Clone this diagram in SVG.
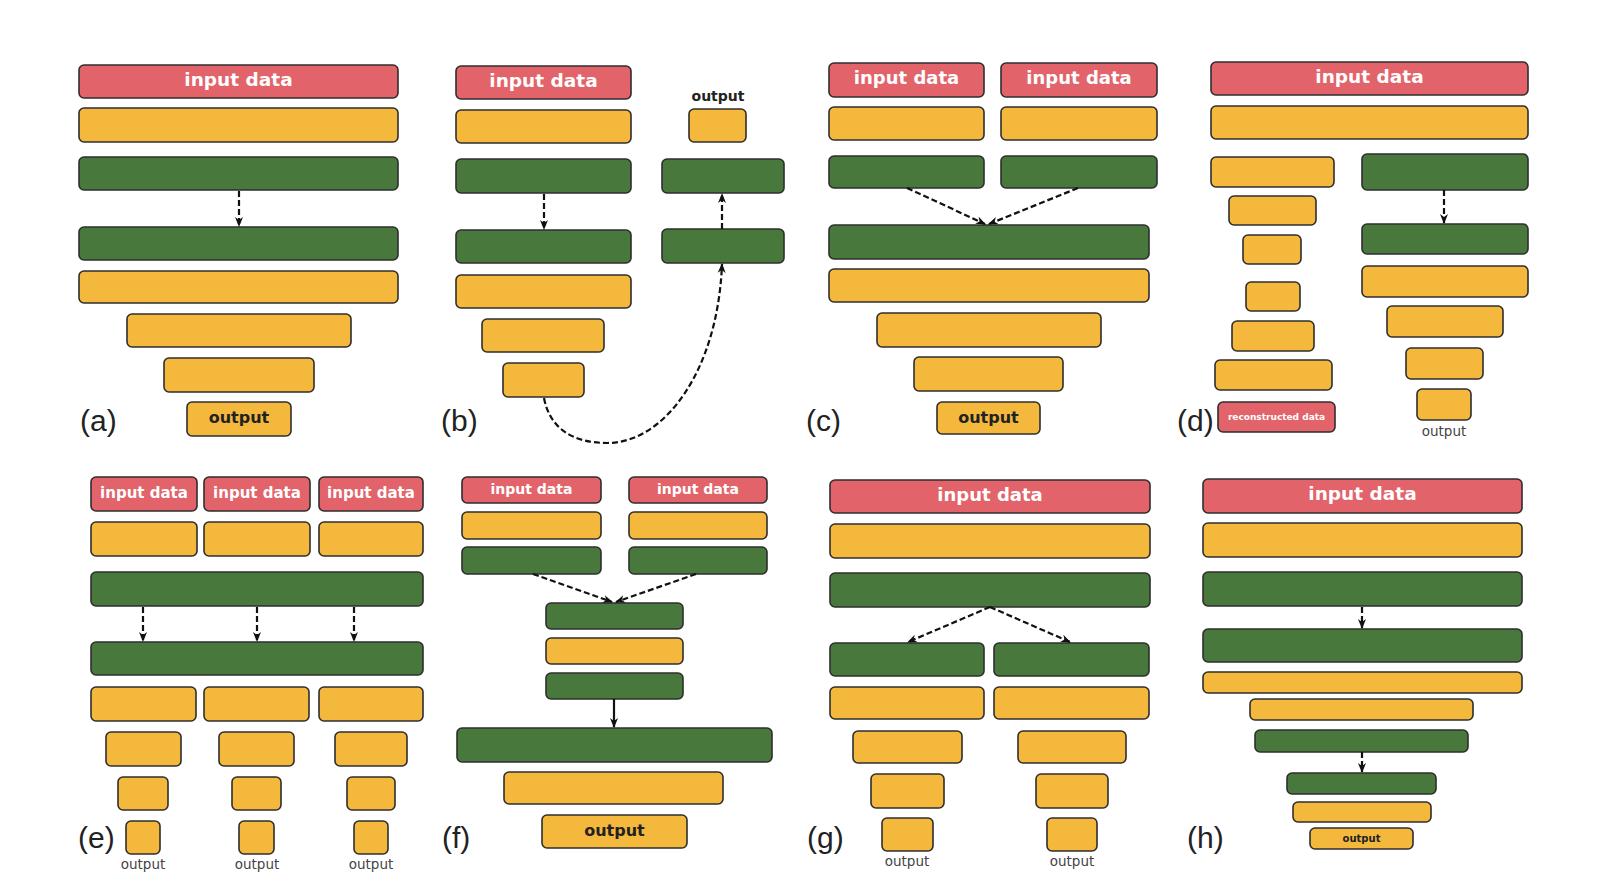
<svg xmlns="http://www.w3.org/2000/svg" width="1604" height="894" viewBox="0 0 1604 894">
<defs>
<style>
rect{stroke:#2e2e2e;stroke-width:1.6}
.r{fill:#e2636a}
.y{fill:#f4b83c}
.g{fill:#48783c}
.it{font-family:"DejaVu Sans",sans-serif;font-weight:bold;fill:#fff;text-anchor:middle}
.ot{font-family:"DejaVu Sans",sans-serif;font-weight:bold;fill:#222;text-anchor:middle}
.og{font-family:"DejaVu Sans",sans-serif;fill:#444;text-anchor:middle;font-size:13.5px}
.lb{font-family:"Liberation Sans",Arial,sans-serif;fill:#222;font-size:30px}
.d{stroke:#111;stroke-width:2.2;stroke-dasharray:6 3;fill:none;marker-end:url(#ah)}
.s{stroke:#111;stroke-width:2.2;fill:none;marker-end:url(#ah)}
</style>
<marker id="ah" viewBox="0 0 10 10" refX="9" refY="5" markerWidth="10" markerHeight="10" markerUnits="userSpaceOnUse" orient="auto">
<path d="M0,1 L10,5 L0,9 L3,5 z" fill="#111"/>
</marker>
</defs>
<rect x="0" y="0" width="1604" height="894" fill="#fff" style="stroke:none"/>

<g id="panel-a">
<rect class="r" x="79" y="65" width="319" height="33" rx="5"/>
<text class="it" x="238.5" y="85.5" font-size="18.5">input data</text>
<rect class="y" x="79" y="108" width="319" height="34" rx="5"/>
<rect class="g" x="79" y="157" width="319" height="33" rx="5"/>
<rect class="g" x="79" y="227" width="319" height="33" rx="5"/>
<rect class="y" x="79" y="271" width="319" height="32" rx="5"/>
<rect class="y" x="127" y="314" width="224" height="33" rx="5"/>
<rect class="y" x="164" y="358" width="150" height="34" rx="5"/>
<rect class="y" x="187" y="402" width="104" height="34" rx="5"/>
<text class="ot" x="239" y="423" font-size="16">output</text>
<text class="lb" x="80" y="431">(a)</text>
</g>

<g id="panel-b">
<rect class="r" x="456" y="66" width="175" height="33" rx="5"/>
<text class="it" x="543.5" y="86.5" font-size="18.5">input data</text>
<rect class="y" x="456" y="110" width="175" height="33" rx="5"/>
<rect class="g" x="456" y="159" width="175" height="34" rx="5"/>
<rect class="g" x="456" y="230" width="175" height="33" rx="5"/>
<rect class="y" x="456" y="275" width="175" height="33" rx="5"/>
<rect class="y" x="482" y="319" width="122" height="33" rx="5"/>
<rect class="y" x="503" y="363" width="81" height="34" rx="5"/>
<text class="ot" x="718" y="101" font-size="14">output</text>
<rect class="y" x="689" y="109" width="57" height="33" rx="5"/>
<rect class="g" x="662" y="159" width="122" height="34" rx="5"/>
<rect class="g" x="662" y="229" width="122" height="34" rx="5"/>
<text class="lb" x="441" y="431">(b)</text>
</g>

<g id="panel-c">
<rect class="r" x="829" y="63" width="155" height="34" rx="5"/>
<text class="it" x="906.5" y="84" font-size="18">input data</text>
<rect class="r" x="1001" y="63" width="156" height="34" rx="5"/>
<text class="it" x="1079" y="84" font-size="18">input data</text>
<rect class="y" x="829" y="107" width="155" height="33" rx="5"/>
<rect class="y" x="1001" y="107" width="156" height="33" rx="5"/>
<rect class="g" x="829" y="156" width="155" height="32" rx="5"/>
<rect class="g" x="1001" y="156" width="156" height="32" rx="5"/>
<rect class="g" x="829" y="225" width="320" height="34" rx="5"/>
<rect class="y" x="829" y="269" width="320" height="33" rx="5"/>
<rect class="y" x="877" y="313" width="224" height="34" rx="5"/>
<rect class="y" x="914" y="357" width="149" height="34" rx="5"/>
<rect class="y" x="937" y="402" width="103" height="32" rx="5"/>
<text class="ot" x="988.5" y="422.5" font-size="16">output</text>
<text class="lb" x="806" y="431">(c)</text>
</g>

<g id="panel-d">
<rect class="r" x="1211" y="62" width="317" height="33" rx="5"/>
<text class="it" x="1369.5" y="82.5" font-size="18.5">input data</text>
<rect class="y" x="1211" y="106" width="317" height="33" rx="5"/>
<rect class="y" x="1211" y="157" width="123" height="30" rx="5"/>
<rect class="y" x="1229" y="196" width="87" height="29" rx="5"/>
<rect class="y" x="1243" y="235" width="58" height="29" rx="5"/>
<rect class="y" x="1246" y="282" width="54" height="29" rx="5"/>
<rect class="y" x="1232" y="321" width="82" height="30" rx="5"/>
<rect class="y" x="1215" y="360" width="117" height="30" rx="5"/>
<rect class="r" x="1218" y="402" width="117" height="30" rx="5"/>
<text class="it" x="1276.5" y="419.5" font-size="9">reconstructed data</text>
<rect class="g" x="1362" y="154" width="166" height="36" rx="5"/>
<rect class="g" x="1362" y="224" width="166" height="30" rx="5"/>
<rect class="y" x="1362" y="266" width="166" height="31" rx="5"/>
<rect class="y" x="1387" y="306" width="116" height="31" rx="5"/>
<rect class="y" x="1406" y="348" width="77" height="31" rx="5"/>
<rect class="y" x="1417" y="389" width="54" height="31" rx="5"/>
<text class="og" x="1444" y="436">output</text>
<text class="lb" x="1177" y="431">(d)</text>
</g>

<g id="panel-e">
<rect class="r" x="91" y="477" width="106" height="34" rx="5"/>
<text class="it" x="144" y="497.5" font-size="15">input data</text>
<rect class="r" x="204" y="477" width="106" height="34" rx="5"/>
<text class="it" x="257" y="497.5" font-size="15">input data</text>
<rect class="r" x="319" y="477" width="104" height="34" rx="5"/>
<text class="it" x="371" y="497.5" font-size="15">input data</text>
<rect class="y" x="91" y="522" width="106" height="34" rx="5"/>
<rect class="y" x="204" y="522" width="106" height="34" rx="5"/>
<rect class="y" x="319" y="522" width="104" height="34" rx="5"/>
<rect class="g" x="91" y="572" width="332" height="34" rx="5"/>
<rect class="g" x="91" y="642" width="332" height="33" rx="5"/>
<rect class="y" x="91" y="687" width="105" height="34" rx="5"/>
<rect class="y" x="204" y="687" width="105" height="34" rx="5"/>
<rect class="y" x="319" y="687" width="104" height="34" rx="5"/>
<rect class="y" x="106" y="732" width="75" height="34" rx="5"/>
<rect class="y" x="219" y="732" width="75" height="34" rx="5"/>
<rect class="y" x="335" y="732" width="72" height="34" rx="5"/>
<rect class="y" x="118" y="777" width="50" height="33" rx="5"/>
<rect class="y" x="232" y="777" width="49" height="33" rx="5"/>
<rect class="y" x="347" y="777" width="48" height="33" rx="5"/>
<rect class="y" x="126" y="821" width="34" height="33" rx="5"/>
<rect class="y" x="239" y="821" width="35" height="33" rx="5"/>
<rect class="y" x="354" y="821" width="34" height="33" rx="5"/>
<text class="og" x="143" y="869">output</text>
<text class="og" x="257" y="869">output</text>
<text class="og" x="371" y="869">output</text>
<text class="lb" x="78" y="848">(e)</text>
</g>

<g id="panel-f">
<rect class="r" x="462" y="477" width="139" height="26" rx="5"/>
<text class="it" x="531.5" y="493.5" font-size="14">input data</text>
<rect class="r" x="629" y="477" width="138" height="26" rx="5"/>
<text class="it" x="698" y="493.5" font-size="14">input data</text>
<rect class="y" x="462" y="512" width="139" height="27" rx="5"/>
<rect class="y" x="629" y="512" width="138" height="27" rx="5"/>
<rect class="g" x="462" y="547" width="139" height="27" rx="5"/>
<rect class="g" x="629" y="547" width="138" height="27" rx="5"/>
<rect class="g" x="546" y="603" width="137" height="26" rx="5"/>
<rect class="y" x="546" y="638" width="137" height="26" rx="5"/>
<rect class="g" x="546" y="673" width="137" height="26" rx="5"/>
<rect class="g" x="457" y="728" width="315" height="34" rx="5"/>
<rect class="y" x="504" y="772" width="219" height="32" rx="5"/>
<rect class="y" x="542" y="815" width="145" height="33" rx="5"/>
<text class="ot" x="614.5" y="836" font-size="16">output</text>
<text class="lb" x="442" y="848">(f)</text>
</g>

<g id="panel-g">
<rect class="r" x="830" y="480" width="320" height="33" rx="5"/>
<text class="it" x="990" y="500.5" font-size="18">input data</text>
<rect class="y" x="830" y="524" width="320" height="34" rx="5"/>
<rect class="g" x="830" y="573" width="320" height="34" rx="5"/>
<rect class="g" x="830" y="643" width="154" height="33" rx="5"/>
<rect class="g" x="994" y="643" width="155" height="33" rx="5"/>
<rect class="y" x="830" y="687" width="154" height="32" rx="5"/>
<rect class="y" x="994" y="687" width="155" height="32" rx="5"/>
<rect class="y" x="853" y="731" width="109" height="32" rx="5"/>
<rect class="y" x="1018" y="731" width="108" height="32" rx="5"/>
<rect class="y" x="871" y="774" width="73" height="34" rx="5"/>
<rect class="y" x="1036" y="774" width="72" height="34" rx="5"/>
<rect class="y" x="882" y="818" width="51" height="33" rx="5"/>
<rect class="y" x="1047" y="818" width="50" height="33" rx="5"/>
<text class="og" x="907" y="866">output</text>
<text class="og" x="1072" y="866">output</text>
<text class="lb" x="807" y="848">(g)</text>
</g>

<g id="panel-h">
<rect class="r" x="1203" y="479" width="319" height="34" rx="5"/>
<text class="it" x="1362.5" y="500" font-size="18.5">input data</text>
<rect class="y" x="1203" y="523" width="319" height="34" rx="5"/>
<rect class="g" x="1203" y="572" width="319" height="34" rx="5"/>
<rect class="g" x="1203" y="629" width="319" height="33" rx="5"/>
<rect class="y" x="1203" y="672" width="319" height="21" rx="5"/>
<rect class="y" x="1250" y="699" width="223" height="21" rx="5"/>
<rect class="g" x="1255" y="730" width="213" height="22" rx="5"/>
<rect class="g" x="1287" y="773" width="149" height="21" rx="5"/>
<rect class="y" x="1293" y="802" width="138" height="20" rx="5"/>
<rect class="y" x="1310" y="828" width="103" height="21" rx="5"/>
<text class="ot" x="1361.5" y="841.5" font-size="10">output</text>
<text class="lb" x="1187" y="848">(h)</text>
</g>

<g id="connectors">
<path class="d" d="M239,191 L239,226"/>
<path class="d" d="M544,194 L544,229"/>
<path class="d" d="M722,229 L722,194"/>
<path class="d" d="M544,398 C550,430 575,443 607,443 C665,443 718,370 722,264"/>
<path class="d" d="M907,188 L985,224"/>
<path class="d" d="M1078,188 L989,224"/>
<path class="d" d="M1444,190 L1444,223"/>
<path class="d" d="M143,607 L143,641"/>
<path class="d" d="M257,607 L257,641"/>
<path class="d" d="M354,607 L354,641"/>
<path class="d" d="M533,574 L612,602"/>
<path class="d" d="M696,574 L616,602"/>
<path class="s" d="M614,699 L614,727"/>
<path class="d" d="M990,607 L908,642"/>
<path class="d" d="M990,607 L1070,642"/>
<path class="d" d="M1362,607 L1362,628"/>
<path class="d" d="M1362,752 L1362,772"/>
</g>
</svg>
